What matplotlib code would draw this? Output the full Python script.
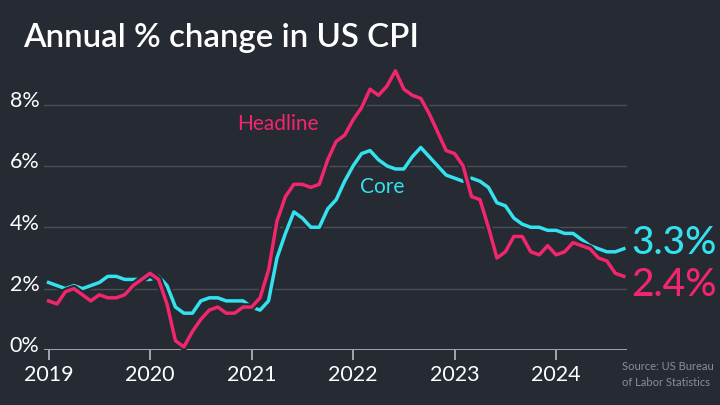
import numpy as np
import matplotlib
matplotlib.use('Agg')
import matplotlib.pyplot as plt
import matplotlib.patheffects as pe

# Annual % change, monthly Jan 2019 - Sep 2024
headline = [1.6, 1.5, 1.9, 2.0, 1.8, 1.6, 1.8, 1.7, 1.7, 1.8, 2.1, 2.3,
            2.5, 2.3, 1.5, 0.3, 0.1, 0.6, 1.0, 1.3, 1.4, 1.2, 1.2, 1.4,
            1.4, 1.7, 2.6, 4.2, 5.0, 5.4, 5.4, 5.3, 5.4, 6.2, 6.8, 7.0,
            7.5, 7.9, 8.5, 8.3, 8.6, 9.1, 8.5, 8.3, 8.2, 7.7, 7.1, 6.5,
            6.4, 6.0, 5.0, 4.9, 4.0, 3.0, 3.2, 3.7, 3.7, 3.2, 3.1, 3.4,
            3.1, 3.2, 3.5, 3.4, 3.3, 3.0, 2.9, 2.5, 2.4]
core = [2.2, 2.1, 2.0, 2.1, 2.0, 2.1, 2.2, 2.4, 2.4, 2.3, 2.3, 2.3,
        2.3, 2.4, 2.1, 1.4, 1.2, 1.2, 1.6, 1.7, 1.7, 1.6, 1.6, 1.6,
        1.4, 1.3, 1.6, 3.0, 3.8, 4.5, 4.3, 4.0, 4.0, 4.6, 4.9, 5.5,
        6.0, 6.4, 6.5, 6.2, 6.0, 5.9, 5.9, 6.3, 6.6, 6.3, 6.0, 5.7,
        5.6, 5.5, 5.6, 5.5, 5.3, 4.8, 4.7, 4.3, 4.1, 4.0, 4.0, 3.9,
        3.9, 3.8, 3.8, 3.6, 3.4, 3.3, 3.2, 3.2, 3.3]
years = [2019, 2020, 2021, 2022, 2023, 2024]
yticks = [0, 2, 4, 6, 8]

t = 2019 + np.arange(len(headline)) / 12.0

bg = '#262a33'
pink = '#f2266d'
cyan = '#34e2ef'
grid = '#4b4f57'
axis_col = '#aeb1b6'

plt.rcParams['font.family'] = ['Lato', 'DejaVu Sans']

fig = plt.figure(figsize=(7.2, 4.05), dpi=100, facecolor=bg)
ax = fig.add_axes([0.0611, 0.1358, 0.810, 0.697], facecolor=bg)

for y in yticks[1:]:
    ax.axhline(y, color=grid, lw=1.0, zorder=1)
ax.axhline(0, color=axis_col, lw=2.0, zorder=2)

stroke = [pe.Stroke(linewidth=5.5, foreground=bg), pe.Normal()]
ax.plot(t, core, color=cyan, lw=2.5, zorder=3, solid_joinstyle='round',
        path_effects=stroke, clip_on=False)
ax.plot(t, headline, color=pink, lw=2.5, zorder=4, solid_joinstyle='round',
        path_effects=stroke, clip_on=False)

ax.set_xlim(2018.955, 2024.70)
ax.set_ylim(0, 9.2)
for s in ax.spines.values():
    s.set_visible(False)

# y labels drawn as text, right aligned just left of the gridlines
ax.set_yticks([])
for v in yticks:
    ax.text(-0.008, v + 0.12, f'{v}%', transform=ax.get_yaxis_transform(),
            color='white', fontsize=15.5, ha='right', va='center')

ax.set_xticks(years)
ax.set_xticklabels([str(y) for y in years])
ax.tick_params(axis='x', length=7, width=1.3, color=axis_col, direction='out',
               pad=4, labelsize=15.5, labelcolor='white')

ax.text(2020.86, 7.36, 'Headline', color=pink, fontsize=15, ha='left', va='center')
ax.text(2022.07, 5.3, 'Core', color=cyan, fontsize=15, ha='left', va='center')

ax.text(2024.74, 3.48, f'{core[-1]}%', color=cyan, fontsize=28, fontweight='medium',
        ha='left', va='center', clip_on=False)
ax.text(2024.74, 2.1, f'{headline[-1]}%', color=pink, fontsize=28, fontweight='medium',
        ha='left', va='center', clip_on=False)

fig.text(0.032, 0.905, 'Annual % change in US CPI', color='white', fontsize=23.8,
         fontweight='semibold', ha='left', va='center')
fig.text(0.864, 0.075, 'Source: US Bureau\nof Labor Statistics', color='#8b8e94',
         fontsize=8, ha='left', va='center', linespacing=1.5)

fig.savefig('out.png', dpi=100, facecolor=bg)
